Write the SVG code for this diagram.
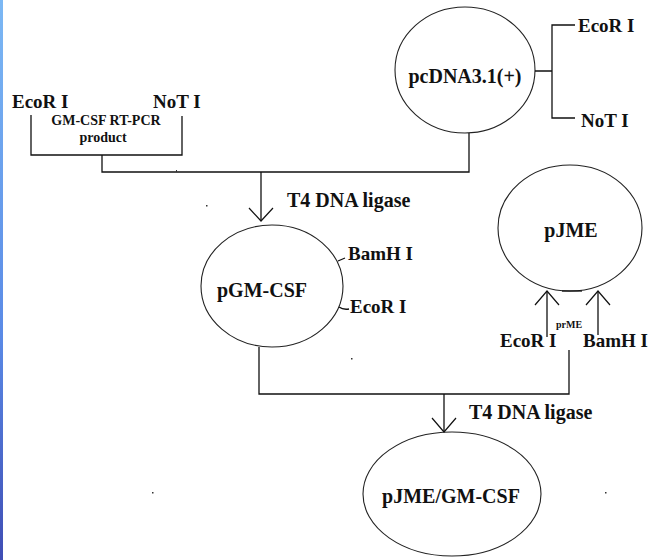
<svg xmlns="http://www.w3.org/2000/svg" width="657" height="560" viewBox="0 0 657 560">
<defs>
<linearGradient id="strip" x1="0" y1="0" x2="0" y2="1">
<stop offset="0" stop-color="#7cb8f4"/>
<stop offset="0.6" stop-color="#5a8ae6"/>
<stop offset="1" stop-color="#3f4db4"/>
</linearGradient>
<marker id="arr" markerUnits="userSpaceOnUse" markerWidth="30" markerHeight="30" refX="0" refY="0" viewBox="-15 -15 30 30" orient="auto" overflow="visible">
<path d="M-13,-12 L0,0 L-13,12" fill="none" stroke="#111" stroke-width="1.2"/>
</marker>
<marker id="arr2" markerUnits="userSpaceOnUse" markerWidth="30" markerHeight="30" refX="0" refY="0" viewBox="-15 -15 30 30" orient="auto" overflow="visible">
<path d="M-14,-12 L0,0 L-14,12" fill="none" stroke="#111" stroke-width="1.2"/>
</marker>
</defs>
<style>
.t{font-family:"Liberation Serif","Times New Roman",serif;font-weight:bold;fill:#111;}
.big{font-size:20px;}
.lab{font-size:19px;}
.sm{font-size:14px;}
.ell{fill:none;stroke:#222;stroke-width:1.1;}
.ln{fill:none;stroke:#111;stroke-width:1.3;}
</style>
<rect x="0" y="0" width="657" height="560" fill="#ffffff"/>
<rect x="0" y="0" width="3" height="560" fill="url(#strip)"/>

<g id="insert">
<text class="t lab" x="12" y="108">EcoR I</text>
<text class="t lab" x="153" y="108">NoT I</text>
<text class="t sm" x="106" y="125" text-anchor="middle">GM-CSF RT-PCR</text>
<text class="t sm" x="103" y="142" text-anchor="middle">product</text>
<path class="ln" d="M31,115 V155 H182 V116"/>
</g>

<g id="pcdna">
<ellipse class="ell" cx="465" cy="70" rx="70" ry="63"/>
<text class="t big" x="465" y="83" text-anchor="middle">pcDNA3.1(+)</text>
<path class="ln" d="M535,71 H552 M575,25 H552 V118 H575"/>
<text class="t lab" x="578" y="32">EcoR I</text>
<text class="t lab" x="581" y="127">NoT I</text>
</g>

<g id="pgmcsf">
<ellipse class="ell" cx="272" cy="286" rx="71" ry="61"/>
<text class="t big" x="262" y="297" text-anchor="middle">pGM-CSF</text>
<path class="ln" d="M338,261 L345,258 M339,307 Q343,310 349,309"/>
<text class="t lab" x="348" y="260">BamH I</text>
<text class="t lab" x="350" y="313">EcoR I</text>
</g>

<g id="pjme">
<ellipse class="ell" cx="570" cy="228" rx="72" ry="63"/>
<path class="ln" d="M562,291 H582" stroke-width="2"/>
<text class="t big" x="571" y="237" text-anchor="middle">pJME</text>
<text class="t" style="font-size:10px" x="556" y="328">prME</text>
<text class="t lab" x="500" y="347">EcoR I</text>
<text class="t lab" x="583" y="347">BamH I</text>
</g>

<g id="final">
<ellipse class="ell" cx="452" cy="494" rx="89" ry="62"/>
<text class="t big" x="451" y="503" text-anchor="middle">pJME/GM-CSF</text>
</g>

<g id="connectors">
<path class="ln" d="M102,155 V172 H469 V133"/>
<path class="ln" d="M261,172 V221" marker-end="url(#arr)"/>
<text class="t big" x="287" y="207">T4 DNA ligase</text>
<path class="ln" d="M547,337 V291" marker-end="url(#arr2)"/>
<path class="ln" d="M598,335 V291" marker-end="url(#arr2)"/>
<path class="ln" d="M259,347 V394 H569 V350"/>
<path class="ln" d="M444,394 V432" marker-end="url(#arr2)"/>
<text class="t big" x="469" y="419">T4 DNA ligase</text>
</g>

<g id="specks" fill="#333">
<rect x="206" y="205" width="1.5" height="1.5"/>
<rect x="351" y="358" width="1.5" height="1.5"/>
<rect x="152" y="492" width="1.5" height="1.5"/>
<rect x="605" y="492" width="1.5" height="1.5"/>
<rect x="176" y="170" width="1" height="2"/>
</g>
</svg>
